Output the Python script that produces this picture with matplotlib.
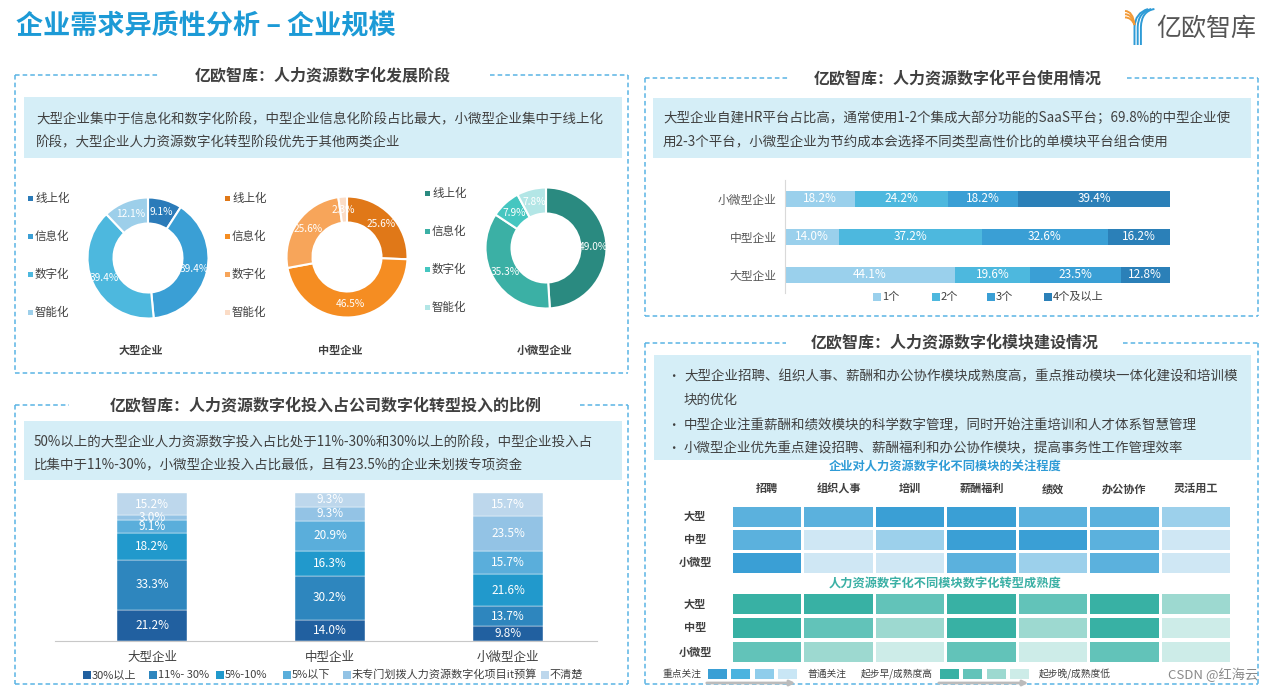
import numpy as np
import matplotlib
matplotlib.use('Agg')
import matplotlib.pyplot as plt
from matplotlib.patches import Rectangle, PathPatch
from matplotlib.path import Path

plt.rcParams['font.family'] = ['Noto Sans CJK SC', 'DejaVu Sans']

# ---------------- data ----------------
main_title = '企业需求异质性分析 – 企业规模'
brand = '亿欧智库'

stage_labels = ['线上化', '信息化', '数字化', '智能化']
donut_groups = ['大型企业', '中型企业', '小微型企业']
stage_large = [9.1, 39.4, 39.4, 12.1]
stage_medium = [25.6, 46.5, 25.6, 2.3]
stage_small = [49.0, 35.3, 7.9, 7.8]

invest_cats = ['大型企业', '中型企业', '小微型企业']
invest_series = ['30%以上', '11%- 30%', '5%-10%', '5%以下',
                 '未专门划拨人力资源数字化项目it预算', '不清楚']
inv_30plus = [21.2, 14.0, 9.8]
inv_11_30 = [33.3, 30.2, 13.7]
inv_5_10 = [18.2, 16.3, 21.6]
inv_5less = [9.1, 20.9, 15.7]
inv_nobudget = [3.0, 9.3, 23.5]
inv_unknown = [15.2, 9.3, 15.7]

platform_cats = ['大型企业', '中型企业', '小微型企业']
platform_series = ['1个', '2个', '3个', '4个及以上']
plat_1 = [44.1, 14.0, 18.2]
plat_2 = [19.6, 37.2, 24.2]
plat_3 = [23.5, 32.6, 18.2]
plat_4 = [12.8, 16.2, 39.4]

modules = ['招聘', '组织人事', '培训', '薪酬福利', '绩效', '办公协作', '灵活用工']
heat_rows = ['大型', '中型', '小微型']
focus_level = [[2, 2, 1, 1, 2, 2, 3],
               [2, 4, 3, 1, 1, 2, 4],
               [1, 4, 4, 2, 3, 2, 4]]
maturity_level = [[1, 1, 2, 1, 2, 1, 3],
                  [1, 2, 3, 1, 3, 1, 4],
                  [2, 3, 4, 2, 4, 2, 4]]

panel_titles = ['亿欧智库：人力资源数字化发展阶段',
                '亿欧智库：人力资源数字化投入占公司数字化转型投入的比例',
                '亿欧智库：人力资源数字化平台使用情况',
                '亿欧智库：人力资源数字化模块建设情况']
text1 = ['大型企业集中于信息化和数字化阶段，中型企业信息化阶段占比最大，小微型企业集中于线上化',
         '阶段，大型企业人力资源数字化转型阶段优先于其他两类企业']
text2 = ['50%以上的大型企业人力资源数字投入占比处于11%-30%和30%以上的阶段，中型企业投入占',
         '比集中于11%-30%，小微型企业投入占比最低，且有23.5%的企业未划拨专项资金']
text3 = ['大型企业自建HR平台占比高，通常使用1-2个集成大部分功能的SaaS平台；69.8%的中型企业使',
         '用2-3个平台，小微型企业为节约成本会选择不同类型高性价比的单模块平台组合使用']
text4 = [('•', '大型企业招聘、组织人事、薪酬和办公协作模块成熟度高，重点推动模块一体化建设和培训模'),
         ('', '块的优化'),
         ('•', '中型企业注重薪酬和绩效模块的科学数字管理，同时开始注重培训和人才体系智慧管理'),
         ('•', '小微型企业优先重点建设招聘、薪酬福利和办公协作模块，提高事务性工作管理效率')]
heat_title1 = '企业对人力资源数字化不同模块的关注程度'
heat_title2 = '人力资源数字化不同模块数字化转型成熟度'
heat_legend = ['重点关注', '普通关注', '起步早/成熟度高', '起步晚/成熟度低']
credit = 'CSDN @红海云'

# ---------------- styles ----------------
TXT = '#404040'
BOXC = '#D5EEF7'
DASH = '#5AB4E4'
blue_donut = ['#2B7BB9', '#3A9FD5', '#4DB8DE', '#9DCFEA']
orange_donut = ['#E07818', '#F58D22', '#F7A55A', '#FBDCC6']
teal_donut = ['#2A8A80', '#3BB0A5', '#45C6C0', '#B3E6E6']
inv_colors = ['#2160A0', '#2E86BE', '#2199CC', '#5AAEDB', '#93C3E5', '#BDD7EC']
plat_colors = ['#9AD0EC', '#4DB8DE', '#3A9FD5', '#2B80B8']
heat_blue = ['#3A9FD5', '#5BB1DD', '#9CD0EB', '#CFE7F4']
heat_teal = ['#38B1A4', '#62C3B9', '#9DD9D0', '#CDECE8']

W, H = 1274, 691
fig = plt.figure(figsize=(W / 100, H / 100), dpi=100)
fig.patch.set_facecolor('white')
bg = fig.add_axes([0, 0, 1, 1])
bg.set_xlim(0, W)
bg.set_ylim(H, 0)
bg.axis('off')


def ax_at(x0, y0, x1, y1):
    a = fig.add_axes([x0 / W, 1 - y1 / H, (x1 - x0) / W, (y1 - y0) / H])
    a.set_facecolor('none')
    return a


def panel(x0, y0, x1, y1, g0, g1, title, tx):
    kw = dict(color=DASH, lw=1.1, ls=(0, (3, 2)))
    bg.plot([x0, x0], [y0, y1], **kw)
    bg.plot([x1, x1], [y0, y1], **kw)
    bg.plot([x0, x1], [y1, y1], **kw)
    bg.plot([x0, g0], [y0, y0], **kw)
    bg.plot([g1, x1], [y0, y0], **kw)
    bg.text(tx, y0, title, ha='center', va='center', fontsize=11.5,
            fontweight='bold', color=TXT)


def textbox(x0, y0, x1, y1):
    bg.add_patch(Rectangle((x0, y0), x1 - x0, y1 - y0, facecolor=BOXC,
                           edgecolor='none'))


# ---------------- header ----------------
bg.text(16, 26, main_title, ha='left', va='center', fontsize=19.5,
        fontweight='bold', color='#1C9AD6')
bg.text(1156, 29, brand, ha='left', va='center', fontsize=18, color='#555555')
for i in range(3):
    o = i * 3.2
    vb = [(1134.5 + o, 45), (1134.5 + o, 27), (1135 + o, 13 - o * 0.3), (1148 + o, 9)]
    bg.add_patch(PathPatch(Path(vb, [Path.MOVETO, Path.LINETO, Path.CURVE3, Path.CURVE3]),
                           fill=False, edgecolor='#2E9BD6', lw=1.4))
    vo = [(1125, 11 + o), (1133 - o * 0.2, 11 + o), (1134.5, 25)]
    bg.add_patch(PathPatch(Path(vo, [Path.MOVETO, Path.CURVE3, Path.CURVE3]),
                           fill=False, edgecolor='#F29A38', lw=1.4))

# ---------------- panels ----------------
panel(15, 75, 628, 373, 158, 490, panel_titles[0], 323)
panel(15, 405, 628, 684, 69, 580, panel_titles[1], 326)
panel(645, 78, 1258, 316, 790, 1127, panel_titles[2], 958)
panel(645, 343, 1258, 684, 786, 1123, panel_titles[3], 955)

textbox(24, 97, 622, 158)
for i, t in enumerate(text1):
    bg.text(36, 119 + i * 23, t, ha='left', va='center', fontsize=9.7, color=TXT)
textbox(24, 421, 622, 480)
for i, t in enumerate(text2):
    bg.text(34, 442 + i * 23, t, ha='left', va='center', fontsize=9.7, color=TXT)
textbox(653, 98, 1251, 158)
for i, t in enumerate(text3):
    bg.text(663, 118 + i * 24, t, ha='left', va='center', fontsize=9.7, color=TXT)
textbox(654, 355, 1251, 460)
for i, (b, t) in enumerate(text4):
    yy = [376, 400, 425, 448][i]
    if b:
        bg.text(667, yy, b, ha='left', va='center', fontsize=9, color=TXT)
    bg.text(684, yy, t, ha='left', va='center', fontsize=9.7, color=TXT)

# ---------------- donuts ----------------
donut_specs = [(stage_large, blue_donut, (148, 258), 30, [198, 236, 274, 312], 141),
               (stage_medium, orange_donut, (347, 257), 227, [198, 236, 274, 312], 340),
               (stage_small, teal_donut, (546, 248), 427, [193, 231, 269, 307], 545)]
PAD = 1.35
for gi, (vals, cols, (cx, cy), lx, lys, tx) in enumerate(donut_specs):
    r = 60.5 * PAD
    ax = ax_at(cx - r, cy - r, cx + r, cy + r)
    ax.pie(vals, colors=cols, startangle=90, counterclock=False, radius=1,
           wedgeprops=dict(width=0.43, edgecolor='white', linewidth=1.5),
           autopct='%.1f%%', pctdistance=0.785,
           textprops=dict(color='white', fontsize=7.3))
    ax.set_xlim(-PAD, PAD)
    ax.set_ylim(-PAD, PAD)
    ax.set_aspect('equal')
    for lab, c, ly in zip(stage_labels, cols, lys):
        bg.add_patch(Rectangle((lx - 2.5, ly - 2.5), 5, 5, facecolor=c, edgecolor='none'))
        bg.text(lx + 5, ly, lab, ha='left', va='center', fontsize=8.3, color=TXT)
    bg.text(tx, 350, donut_groups[gi], ha='center', va='center', fontsize=8,
            fontweight='bold', color=TXT)

# ---------------- investment stacked bars ----------------
ax = ax_at(55, 493, 597, 641)
inv_vals = [inv_30plus, inv_11_30, inv_5_10, inv_5less, inv_nobudget, inv_unknown]
x = np.arange(len(invest_cats))
bottom = np.zeros(len(invest_cats))
for name, vals, c in zip(invest_series, inv_vals, inv_colors):
    vals = np.array(vals)
    ax.bar(x, vals, 0.393, bottom=bottom, color=c, edgecolor='white', linewidth=0.3)
    for xi, v, b in zip(x, vals, bottom):
        ax.text(xi, b + v / 2, f'{v:.1f}%', ha='center', va='center',
                color='white', fontsize=8.5, clip_on=False)
    bottom += vals
ax.set_xlim(-0.545, 2.5)
ax.set_ylim(0, 100)
for s in ['top', 'right', 'left']:
    ax.spines[s].set_visible(False)
ax.spines['bottom'].set_color('#C8C8C8')
ax.set_yticks([])
ax.set_xticks(x, invest_cats)
ax.tick_params(axis='x', length=0, pad=7.5, labelsize=9, labelcolor=TXT)
inv_leg_x = [87, 153, 220, 287, 347, 545]
for name, c, lx in zip(invest_series, inv_colors, inv_leg_x):
    bg.add_patch(Rectangle((lx - 4, 671), 8, 8, facecolor=c, edgecolor='none'))
    bg.text(lx + 5, 675, name, ha='left', va='center', fontsize=8, color=TXT)

# ---------------- platform horizontal bars ----------------
ax = ax_at(785, 180, 1170, 293)
plat_vals = [plat_1, plat_2, plat_3, plat_4]
y = np.arange(len(platform_cats))
left = np.zeros(len(platform_cats))
for name, vals, c in zip(platform_series, plat_vals, plat_colors):
    vals = np.array(vals)
    ax.barh(y, vals, 0.40, left=left, color=c)
    for yi, v, l in zip(y, vals, left):
        ax.text(l + v / 2, yi, f'{v:.1f}%', ha='center', va='center',
                color='white', fontsize=8.5)
    left += vals
ax.set_xlim(0, 100)
ax.set_ylim(-0.474, 2.5)
for s in ['top', 'right', 'bottom']:
    ax.spines[s].set_visible(False)
ax.spines['left'].set_color('#D9D9D9')
ax.set_xticks([])
ax.set_yticks(y, platform_cats)
ax.tick_params(axis='y', length=0, pad=6, labelsize=8.5, labelcolor='#595959')
plat_leg_x = [877, 936, 991, 1048]
for name, c, lx in zip(platform_series, plat_colors, plat_leg_x):
    bg.add_patch(Rectangle((lx - 4, 293), 8, 8, facecolor=c, edgecolor='none'))
    bg.text(lx + 5, 297, name, ha='left', va='center', fontsize=8, color=TXT)

# ---------------- heatmaps ----------------
bg.text(945, 467, heat_title1, ha='center', va='center', fontsize=8.8,
        fontweight='bold', color='#2E9BD6')
bg.text(945, 584, heat_title2, ha='center', va='center', fontsize=8.8,
        fontweight='bold', color='#3BB0A5')


def heatmap(box, levels, palette, pitch_px, cell_px, header):
    ax = ax_at(*box)
    cols = np.arange(len(modules))
    for r, row in enumerate(levels):
        h = cell_px / pitch_px
        ax.bar(cols, h, bottom=r - h / 2, width=0.96,
               color=[palette[l - 1] for l in row])
    ax.set_xlim(-0.5, len(modules) - 0.5)
    ax.set_ylim(len(levels) - 0.5, -0.5)
    for s in ax.spines.values():
        s.set_visible(False)
    ax.set_yticks([])
    if header:
        ax.xaxis.tick_top()
        ax.set_xticks(cols, modules)
        ax.tick_params(axis='x', length=0, pad=7, labelsize=8, labelcolor=TXT)
        for t in ax.get_xticklabels():
            t.set_fontweight('bold')
    else:
        ax.set_xticks([])
    xa = (695 - box[0]) / (box[2] - box[0])
    for r, name in enumerate(heat_rows):
        ax.text(xa, r, name, transform=ax.get_yaxis_transform(), ha='center',
                va='center', fontsize=8, fontweight='bold', color=TXT)


heatmap((731.5, 505, 1231.5, 574), focus_level, heat_blue, 23, 20, True)
heatmap((731.5, 592, 1231.5, 664), maturity_level, heat_teal, 24, 20, False)

# legend
bg.text(682, 674, heat_legend[0], ha='center', va='center', fontsize=7, color=TXT)
for i, c in enumerate(['#3A9FD5', '#4BB3DF', '#8FCDEB', '#C9E6F5']):
    bg.add_patch(Rectangle((708 + i * 23.3, 669), 19, 10, facecolor=c, edgecolor='none'))
bg.text(827, 674, heat_legend[1], ha='center', va='center', fontsize=7, color=TXT)
bg.text(897, 674, heat_legend[2], ha='center', va='center', fontsize=7, color=TXT)
for i, c in enumerate(['#38B1A4', '#62C3B9', '#9DD9D0', '#CDECE8']):
    bg.add_patch(Rectangle((940 + i * 23.3, 669), 19, 10, facecolor=c, edgecolor='none'))
bg.text(1075, 674, heat_legend[3], ha='center', va='center', fontsize=7, color=TXT)
for xa0, xa1 in [(704, 798), (936, 1031)]:
    bg.annotate('', xy=(xa1, 683), xytext=(xa0, 683),
                arrowprops=dict(arrowstyle='-|>,head_length=0.3,head_width=0.15',
                                color='#BBBBBB', lw=2))
bg.text(1258, 675, credit, ha='right', va='center', fontsize=9.5, color='#8A8A8A')

fig.savefig('out.png', dpi=100)
